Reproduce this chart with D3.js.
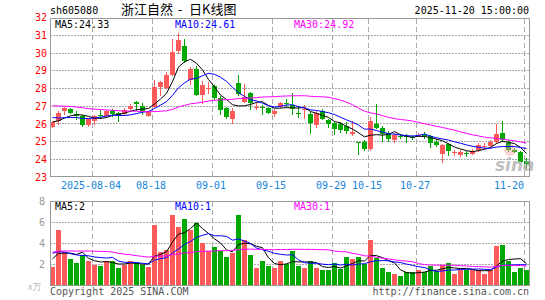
<!DOCTYPE html>
<html><head><meta charset="utf-8">
<script src="https://cdn.jsdelivr.net/npm/d3@7"></script>
<style>
body{margin:0;background:#fff}
svg{display:block}
text{font-family:"DejaVu Sans Mono",monospace;font-size:10px}
</style>
</head><body>
<svg id="c" width="545" height="300"></svg>
<script>
// ---------- DATA ----------
const dates = ["07-24","07-25","07-28","07-29","07-30","07-31","08-01","08-04","08-05","08-06",
"08-07","08-08","08-11","08-12","08-13","08-14","08-15","08-18","08-19","08-20",
"08-21","08-22","08-25","08-26","08-27","08-28","08-29","09-01","09-02","09-03",
"09-04","09-05","09-08","09-09","09-10","09-11","09-12","09-15","09-16","09-17",
"09-18","09-19","09-22","09-23","09-24","09-25","09-26","09-29","09-30","10-09",
"10-10","10-13","10-14","10-15","10-16","10-17","10-20","10-21","10-22","10-23",
"10-24","10-27","10-28","10-29","10-30","10-31","11-03","11-04","11-05","11-06",
"11-07","11-10","11-11","11-12","11-13","11-14","11-17","11-18","11-19","11-20"];

const open = [25.85,26.19,26.75,26.85,26.55,26.43,25.92,26.17,26.52,26.43,
26.73,26.62,26.55,26.84,27.22,27.0,26.45,26.95,28.08,28.0,
28.75,30.1,30.42,28.45,29.1,27.62,28.0,28.13,27.48,26.87,
26.3,28.3,27.26,27.74,26.93,26.95,26.9,26.58,26.94,27.15,
27.05,26.62,26.83,26.57,25.93,26.75,26.2,26.04,26.0,25.9,
25.42,24.99,24.96,24.56,25.99,25.74,25.5,25.1,25.3,25.29,
25.27,25.32,25.36,25.31,24.96,24.29,24.84,24.38,24.24,24.36,
24.3,24.5,24.72,24.73,25.0,25.48,24.92,24.55,24.4,23.92];

const high = [26.13,26.74,26.98,26.87,26.72,26.5,26.3,26.5,26.78,26.8,
26.85,26.68,26.9,27.1,27.28,27.18,26.75,28.48,28.42,28.93,
30.8,31.13,30.8,29.22,29.25,28.42,28.37,28.2,27.55,26.95,
26.87,28.75,28.25,27.78,27.15,27.05,26.95,26.85,27.22,27.4,
27.75,27.0,27.05,26.65,26.7,26.85,26.28,26.1,26.1,26.1,
26.14,25.0,25.09,26.36,27.12,25.86,25.59,25.49,25.44,25.42,
25.39,25.49,25.54,25.39,25.14,24.89,24.94,24.54,24.51,24.49,
24.6,24.92,24.9,25.1,25.98,26.17,25.1,24.63,24.48,24.07];

const low = [25.75,25.94,26.5,26.55,26.22,25.82,25.85,25.95,26.28,26.33,
26.4,26.1,26.45,26.72,26.75,26.5,26.38,26.88,27.55,27.95,
28.7,29.95,29.43,28.2,27.57,27.1,27.68,27.34,26.49,26.3,
25.98,27.6,27.2,26.78,26.8,26.5,26.55,26.4,26.9,26.93,
26.5,26.35,26.3,25.45,25.78,26.2,25.75,25.35,25.5,25.45,
25.34,24.24,24.49,24.49,25.69,24.99,24.96,24.92,25.14,24.94,
25.09,25.24,25.14,24.62,24.69,23.79,24.19,24.19,24.14,24.14,
24.22,24.4,24.6,24.65,24.85,24.95,24.42,24.35,23.85,23.45];

const close = [26.08,26.62,26.87,26.62,26.45,25.93,26.25,26.42,26.47,26.72,
26.55,26.5,26.8,27.0,27.14,26.73,26.67,28.08,28.38,28.75,
30.07,30.75,29.56,29.1,27.62,28.2,28.05,27.47,26.78,26.38,
26.73,27.7,27.52,27.15,26.97,26.92,26.62,26.75,27.18,27.12,
26.85,26.58,26.86,26.07,26.63,26.27,26.0,25.7,25.68,25.62,
25.54,24.94,24.56,26.14,25.76,25.42,25.14,25.35,25.27,25.26,
25.24,25.36,25.32,24.94,24.82,24.79,24.49,24.41,24.41,24.34,
24.47,24.82,24.76,24.95,25.45,25.10,24.53,24.40,23.86,23.76];

// volume, in 万 (bar heights)
const volume = [1.75,5.24,3.17,2.48,2.13,2.86,2.32,2.0,1.9,2.32,
2.38,1.65,2.0,2.38,2.13,2.0,1.75,5.75,3.17,3.4,
6.67,5.56,6.29,5.24,6.0,4.03,3.24,3.71,3.27,2.76,
3.08,6.67,4.38,2.95,1.65,2.29,1.9,1.68,2.38,2.06,
3.33,1.81,1.65,2.38,1.71,1.43,1.43,2.13,1.59,2.76,
2.57,2.7,2.06,4.29,2.6,1.62,1.24,1.05,0.95,1.33,
1.33,1.43,1.33,1.81,1.37,2.0,2.13,1.05,1.49,1.49,
1.52,1.49,1.05,1.49,3.75,3.81,2.29,1.27,1.65,1.43];

// 29 sessions before the visible window (not drawn), estimated from where
// the MA5/MA10/MA30 lines start at the left edge
const priorCloses = [27.0,27.1,27.3,27.2,27.4,27.5,27.3,27.2,27.4,27.3,
27.1,27.2,27.3,27.2,27.3,27.2,27.6,27.9,27.85,27.71,
26.9,26.7,26.5,26.46,26.49,26.3,26.1,26.0,26.07];
const priorVolumes = [2.3,2.6,2.4,2.5,2.7,2.3,2.5,2.52,2.5,4.0,
5.2,4.6,3.9,4.8,4.1,3.89,3.2,2.6,2.9,2.79,
3.9,3.4,4.1,3.3,3.4,2.6,3.1,2.5,2.75];

const tickDates = ["08-04","08-18","09-01","09-15","09-29","10-15","10-27","11-20"];
const tickLabels = ["2025-08-04","08-18","09-01","09-15","09-29","10-15","10-27","11-20"];
const priceTicks = [23,24,25,26,27,28,29,30,31,32];
const volTicks = [2,4,6,8];
const maPeriods = [5,10,30];
const maColors = ["#000000","#0000ff","#ff00ff"];

// ---------- DRAWING ----------
const svg = d3.select("#c");
const n = close.length;
const L = 50, R = 530;
const x = d3.scaleBand().domain(d3.range(n)).range([L, R]);
const y = d3.scaleLinear().domain([23, 32]).range([177, 17.6]);
const yv = d3.scaleLinear().domain([0, 8]).range([285.5, 201.5]);
const UP = "#ff5a5a", DOWN = "#00a800", GRID = "#a8a8a8";
const tickIdx = tickDates.map(t => dates.indexOf(t));

function movingAvg(prior, arr, p) {
  const all = prior.concat(arr), off = prior.length;
  return arr.map((_, i) => d3.mean(all.slice(off + i - p + 1, off + i + 1)));
}

// header
svg.append("text").attr("x", 50).attr("y", 14).text("sh605080");
const cjk = '"Noto Sans CJK SC", sans-serif';
svg.append("text").attr("x", 121).attr("y", 14)
  .style("font-family", cjk).style("font-size", "13px").text("浙江自然");
svg.append("text").attr("x", 178).attr("y", 14)
  .style("font-family", cjk).style("font-size", "13px").text("-");
svg.append("text").attr("x", 189).attr("y", 14)
  .style("font-family", cjk).style("font-size", "13px").text("日K线图");
svg.append("text").attr("x", 529).attr("y", 14).attr("text-anchor", "end").text("2025-11-20 15:00:00");

// price grid
const gP = svg.append("g");
gP.selectAll("line.h").data(priceTicks.filter(v => v > 23 && v < 32)).join("line")
  .attr("x1", L).attr("x2", 529)
  .attr("y1", d => Math.floor(y(d)) + 0.5).attr("y2", d => Math.floor(y(d)) + 0.5)
  .attr("stroke", GRID).attr("stroke-dasharray", "2,1");
gP.selectAll("line.v").data(tickIdx).join("line")
  .attr("x1", d => x(d) + 0.5).attr("x2", d => x(d) + 0.5)
  .attr("y1", 19).attr("y2", 176)
  .attr("stroke", GRID).attr("stroke-dasharray", "5,3");

// volume grid
const gV = svg.append("g");
gV.selectAll("line.h").data(volTicks.filter(v => v < 8)).join("line")
  .attr("x1", L).attr("x2", 529)
  .attr("y1", d => Math.floor(yv(d)) + 0.5).attr("y2", d => Math.floor(yv(d)) + 0.5)
  .attr("stroke", GRID).attr("stroke-dasharray", "2,1");
gV.selectAll("line.v").data(tickIdx).join("line")
  .attr("x1", d => x(d) + 0.5).attr("x2", d => x(d) + 0.5)
  .attr("y1", 202).attr("y2", 285)
  .attr("stroke", GRID).attr("stroke-dasharray", "5,3");

// candles
const idx = d3.range(n);
const cg = svg.append("g");
cg.selectAll("line").data(idx).join("line")
  .attr("x1", i => x(i) + 2.5).attr("x2", i => x(i) + 2.5)
  .attr("y1", i => Math.round(y(high[i]))).attr("y2", i => Math.round(y(low[i])))
  .attr("stroke", i => close[i] >= open[i] ? UP : DOWN);
cg.selectAll("rect").data(idx).join("rect")
  .attr("x", i => x(i)).attr("width", 5)
  .attr("y", i => Math.round(y(Math.max(open[i], close[i]))))
  .attr("height", i => Math.max(1, Math.round(y(Math.min(open[i], close[i]))) - Math.round(y(Math.max(open[i], close[i])))))
  .attr("fill", i => close[i] >= open[i] ? UP : DOWN);

// volume bars
svg.append("g").selectAll("rect").data(idx).join("rect")
  .attr("x", i => x(i)).attr("width", 5)
  .attr("y", i => Math.round(yv(volume[i])))
  .attr("height", i => 286 - Math.round(yv(volume[i])))
  .attr("fill", i => close[i] >= open[i] ? UP : DOWN);

// watermark (under the lines)
svg.append("circle").attr("cx", 510).attr("cy", 150).attr("r", 6).attr("fill", "#f3a0a0").attr("opacity", 0.45);
svg.append("text").attr("x", 495).attr("y", 171).attr("fill", "#aaa").attr("opacity", 0.75)
  .style("font-family", '"DejaVu Sans", sans-serif').style("font-size", "17px")
  .style("font-weight", "bold").style("font-style", "italic").text("sina");

// MA lines
const priceMA = maPeriods.map(p => movingAvg(priorCloses, close, p));
const volMA = maPeriods.map(p => movingAvg(priorVolumes, volume, p));
const lp = d3.line().x((d, i) => x(i) + 2.5).y(d => y(d));
const lv = d3.line().x((d, i) => x(i) + 2.5).y(d => yv(d));
priceMA.forEach((m, k) => svg.append("path").attr("d", lp(m)).attr("fill", "none")
  .attr("stroke", maColors[k]).attr("stroke-width", 1));
volMA.forEach((m, k) => svg.append("path").attr("d", lv(m)).attr("fill", "none")
  .attr("stroke", maColors[k]).attr("stroke-width", 1));

// frames
svg.append("rect").attr("x", 50.5).attr("y", 18.5).attr("width", 479).attr("height", 158)
  .attr("fill", "none").attr("stroke", "#999");
svg.append("rect").attr("x", 50.5).attr("y", 201.5).attr("width", 479).attr("height", 84)
  .attr("fill", "none").attr("stroke", "#999");

// MA legends
const maX = [55, 175, 294];
maPeriods.forEach((p, k) => {
  svg.append("text").attr("x", maX[k]).attr("y", 27.5).attr("fill", maColors[k])
    .text("MA" + p + ":" + priceMA[k][n - 1].toFixed(2));
  svg.append("text").attr("x", maX[k]).attr("y", 209.5).attr("fill", maColors[k])
    .text("MA" + p + ":" + Math.floor(volMA[k][n - 1]));
});

// axes
const ay = svg.append("g").attr("transform", "translate(49,0)")
  .call(d3.axisLeft(y).tickValues(priceTicks).tickSize(0).tickPadding(2).tickFormat(d3.format("d")));
ay.select(".domain").remove();
ay.selectAll("text").attr("fill", "#ff0000").style("font-family", '"DejaVu Sans Mono",monospace').style("font-size", "10px");

const av = svg.append("g").attr("transform", "translate(47,0)")
  .call(d3.axisLeft(yv).tickValues(volTicks).tickSize(0).tickPadding(2).tickFormat(d3.format("d")));
av.select(".domain").remove();
av.selectAll("text").attr("fill", "#999").style("font-family", '"DejaVu Sans Mono",monospace').style("font-size", "10px");

const ax = svg.append("g").attr("transform", "translate(0,177)")
  .call(d3.axisBottom(x).tickValues(tickIdx).tickSize(0).tickPadding(5)
    .tickFormat((d, k) => tickLabels[k]));
ax.select(".domain").remove();
ax.selectAll("text").attr("fill", "#1585d8").attr("dx", -4)
  .style("font-family", '"DejaVu Sans Mono",monospace').style("font-size", "10px");
// keep the last label inside the plot frame
ax.selectAll(".tick").filter((d, k) => k === tickIdx.length - 1).select("text")
  .attr("text-anchor", "end").attr("dx", 524 - (x(tickIdx[tickIdx.length - 1]) + x.bandwidth() / 2));

// unit + footer
svg.append("text").attr("x", 28).attr("y", 290).attr("fill", "#bbb")
  .style("font-family", cjk).style("font-size", "9px").text("x万");
svg.append("text").attr("x", 50).attr("y", 295).attr("fill", "#555").text("Copyright 2025 SINA.COM");
svg.append("text").attr("x", 529).attr("y", 295).attr("text-anchor", "end").attr("fill", "#555")
  .text("http://finance.sina.com.cn");
</script>
</body></html>
